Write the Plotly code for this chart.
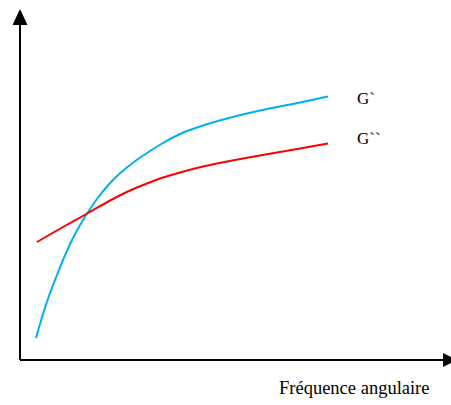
import plotly.graph_objects as go

# Data (arbitrary units: x = angular frequency, y = modulus)
freq_g1 = [16, 23, 30, 37, 43, 53, 63, 77, 93, 110, 127, 143, 160, 180, 207, 240, 280, 308]
g_prime = [22, 46, 67, 85, 100, 122, 140, 161, 180, 195, 207, 217, 226, 233.5, 241.5, 249.5, 257.5, 263.5]

freq_g2 = [17, 43, 69, 93, 110, 127, 143, 160, 190, 223, 280, 308]
g_second = [118, 133, 147.5, 161, 169.5, 176.5, 182.5, 187.5, 195, 201.5, 211.5, 216.5]

labels = ["G`", "G``"]
x_title = "Fréquence angulaire"

fig = go.Figure()
fig.add_trace(go.Scatter(x=freq_g1, y=g_prime, mode="lines",
                         line=dict(color="#00B0F0", width=2, shape="spline", smoothing=0.8),
                         hoverinfo="skip", showlegend=False))
fig.add_trace(go.Scatter(x=freq_g2, y=g_second, mode="lines",
                         line=dict(color="#FF0000", width=2, shape="spline", smoothing=0.8),
                         hoverinfo="skip", showlegend=False))

# axes lines
fig.add_shape(type="line", x0=0, y0=0, x1=0, y1=338, line=dict(color="black", width=2))
fig.add_shape(type="line", x0=0, y0=0, x1=426, y1=0, line=dict(color="black", width=2))
# arrowheads
fig.add_shape(type="path", path="M -7.5 335 L 7.5 335 L 0 351 Z", fillcolor="black", line=dict(width=0))
fig.add_shape(type="path", path="M 423 -7 L 423 7 L 437 0 Z", fillcolor="black", line=dict(width=0))

font = dict(family="Liberation Serif", size=17, color="black")
fig.add_annotation(x=335, y=262, text=labels[0], showarrow=False, xanchor="left", yanchor="middle", font=font)
fig.add_annotation(x=335, y=222, text=labels[1], showarrow=False, xanchor="left", yanchor="middle", font=font)
fig.add_annotation(x=412, y=-28, text=x_title, showarrow=False, xanchor="right", yanchor="middle",
                   font=dict(family="Liberation Serif", size=18.5, color="black"))

fig.update_layout(
    width=451, height=405,
    margin=dict(l=0, r=0, t=0, b=0),
    paper_bgcolor="white", plot_bgcolor="white",
    xaxis=dict(range=[-20, 431], visible=False, fixedrange=True),
    yaxis=dict(range=[-45, 360], visible=False, fixedrange=True),
)
fig.write_html("out.html", config={"displayModeBar": False},
               post_script="document.body.style.margin='0';document.body.style.overflow='hidden';")
